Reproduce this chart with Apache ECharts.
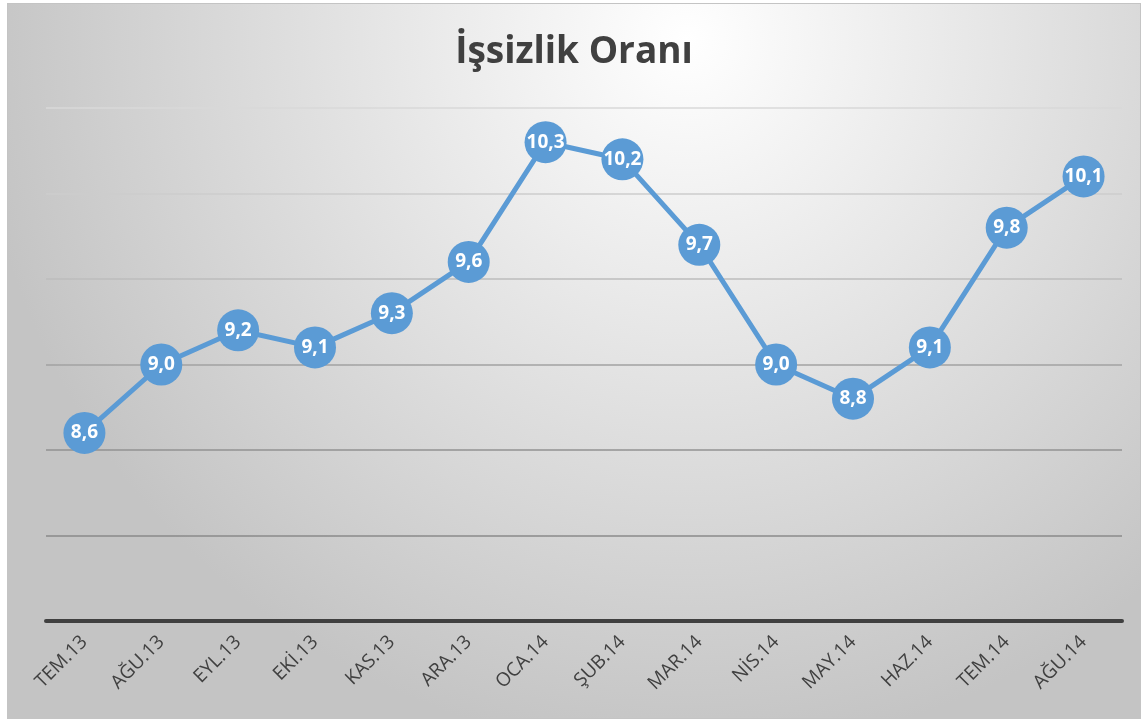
<!DOCTYPE html>
<html>
<head>
<meta charset="utf-8">
<script src="https://cdn.jsdelivr.net/npm/echarts@6/dist/echarts.min.js"></script>
<style>
  html, body { margin: 0; padding: 0; background: #fff; }
  #chart { position: absolute; left: 7px; top: 3px; width: 1132px; height: 714px; border: 1px solid #c4c4c4; }
</style>
</head>
<body>
<div id="chart"></div>
<script>
// aylar
const months = ['TEM.13', 'AĞU.13', 'EYL.13', 'EKİ.13', 'KAS.13', 'ARA.13', 'OCA.14',
  'ŞUB.14', 'MAR.14', 'NİS.14', 'MAY.14', 'HAZ.14', 'TEM.14', 'AĞU.14'];
// işsizlik oranı (%)
const rates = [8.6, 9.0, 9.2, 9.1, 9.3, 9.6, 10.3, 10.2, 9.7, 9.0, 8.8, 9.1, 9.8, 10.1];

const myChart = echarts.init(document.getElementById('chart'));

const option = {
  backgroundColor: {
    type: 'radial', x: 0.6, y: 0.05, r: 1.0,
    colorStops: [
      { offset: 0, color: '#ffffff' },
      { offset: 1, color: '#c4c4c4' }
    ]
  },
  title: {
    text: 'İşsizlik Oranı',
    left: 'center',
    top: 25,
    textStyle: { fontFamily: 'Open Sans', fontWeight: 'bold', fontSize: 37, color: '#404040' }
  },
  grid: { left: 38, right: 18, top: 104, bottom: 97 },
  xAxis: {
    type: 'category',
    data: months,
    boundaryGap: true,
    axisLine: { lineStyle: { color: '#404040', width: 4 } },
    axisTick: { show: false },
    axisLabel: {
      rotate: 45,
      margin: 18,
      color: '#404040',
      fontFamily: 'Open Sans',
      fontSize: 19
    }
  },
  yAxis: {
    type: 'value',
    min: 7.5,
    max: 10.5,
    interval: 0.5,
    axisLine: { show: false },
    axisTick: { show: false },
    axisLabel: { show: false },
    splitLine: {
      lineStyle: {
        width: 1.5,
        color: ['#404040', '#8a8a8a', '#929292', '#a2a2a2', '#bcbcbc', '#cccccc', '#d8d8d8']
      }
    }
  },
  series: [
    {
      name: 'İşsizlik Oranı',
      type: 'line',
      data: rates,
      symbol: 'circle',
      symbolSize: 42,
      itemStyle: { color: '#5b9bd5' },
      lineStyle: { color: '#5b9bd5', width: 5 },
      label: {
        show: true,
        position: 'inside',
        color: '#ffffff',
        fontFamily: 'Open Sans',
        fontWeight: 'bold',
        fontSize: 19,
        formatter: p => p.value.toFixed(1).replace('.', ',')
      },
      emphasis: { disabled: true },
      animation: false
    }
  ]
};

myChart.setOption(option);
</script>
</body>
</html>
